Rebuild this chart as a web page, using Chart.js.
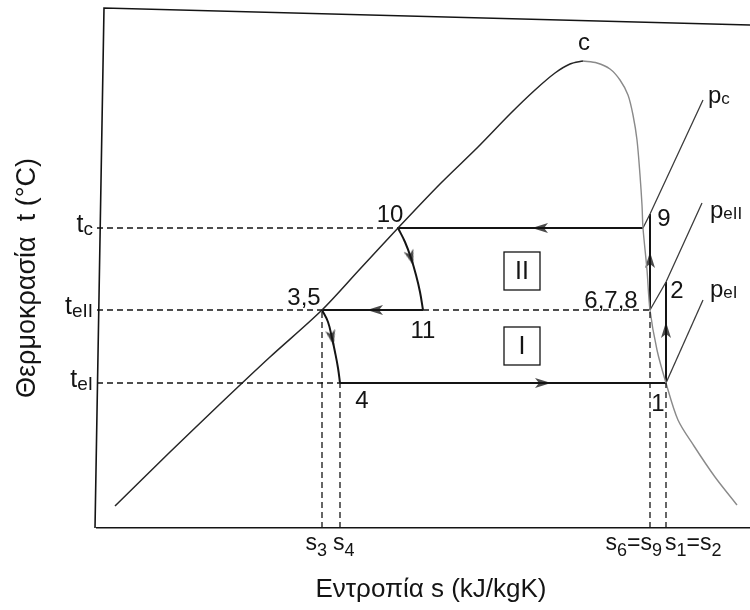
<!DOCTYPE html>
<html>
<head>
<meta charset="utf-8">
<script src="https://cdn.jsdelivr.net/npm/chart.js@4.4.1/dist/chart.umd.min.js"></script>
<style>
  html, body { margin: 0; padding: 0; background: #fff; }
  canvas { display: block; }
</style>
</head>
<body>
<canvas id="ts" width="750" height="610"></canvas>
<script>
// ---- Schematic T-s diagram of a two-stage vapour compression cycle ----
// entropy s and temperature t in arbitrary (schematic) units

// saturated liquid branch of the dome, up to the critical point c
const liquidS = [0.18, 0.73, 1.23, 1.73, 2.25, 2.63, 3.01, 3.43, 3.81, 4.13, 4.38, 4.58, 4.73, 4.86];
const liquidT = [0.22, 0.76, 1.24, 1.71, 2.18, 2.59, 3.00, 3.44, 3.81, 4.14, 4.38, 4.55, 4.64, 4.67];

// saturated vapour branch, from c downwards
const vapourS = [4.86, 5.00, 5.13, 5.23, 5.31, 5.36, 5.40, 5.43, 5.45, 5.46, 5.50, 5.53, 5.60, 5.69, 5.81, 5.97, 6.18, 6.40];
const vapourT = [4.67, 4.65, 4.59, 4.48, 4.33, 4.13, 3.88, 3.53, 3.23, 3.00, 2.58, 2.18, 1.78, 1.45, 1.08, 0.82, 0.51, 0.23];

// cycle state points
const stateNames = ['1', '2', '3,5', '4', '6,7,8', '9', '10', '11'];
const stateS     = [5.69, 5.69, 2.25, 2.43, 5.53, 5.53, 3.01, 3.26];
const stateT     = [1.45, 2.46, 2.18, 1.45, 2.18, 3.14, 3.00, 2.18];

// throttling 10 -> 11 and 3,5 -> 4
const throttleHiS = [3.01, 3.08, 3.14, 3.19, 3.23, 3.26];
const throttleHiT = [3.00, 2.86, 2.70, 2.53, 2.36, 2.18];
const throttleLoS = [2.25, 2.31, 2.35, 2.38, 2.41, 2.43];
const throttleLoT = [2.18, 2.06, 1.90, 1.76, 1.60, 1.45];

// isobars in the superheated region
const isobarNames = ['p_c', 'p_eII', 'p_eI'];
const isobarS = [[5.46, 5.53, 6.06], [5.53, 5.69, 6.05], [5.69, 6.06]];
const isobarT = [[3.00, 3.14, 4.28], [2.18, 2.46, 3.25], [1.45, 2.28]];

// temperature levels (y ticks) and entropy marks (x ticks)
const tempLabels = ['t_c', 't_eII', 't_eI'];
const tempValues = [3.00, 2.18, 1.45];
const entropyLabels = ['s_3', 's_4', 's_6=s_9', 's_1=s_2'];
const entropyValues = [2.25, 2.43, 5.53, 5.69];

// direction arrows along the cycle
const arrowS   = [4.46, 5.69, 5.53, 4.43, 3.14, 2.78, 2.35];
const arrowT   = [1.45, 1.98, 2.68, 3.00, 2.70, 2.18, 1.90];
const arrowDir = [90, 0, 0, 270, 162, 270, 167];

// ---------------------------------------------------------------------
const FONT = "'Liberation Sans', Arial, Helvetica, sans-serif";
const INK = '#141414';

const pts = (xs, ys) => xs.map((x, i) => ({ x: x, y: ys[i] }));
const st = name => stateNames.indexOf(name);

function seg(xs, ys, color, width, dash, tension) {
  return {
    data: pts(xs, ys), showLine: true, pointRadius: 0, pointHoverRadius: 0,
    borderColor: color, borderWidth: width, borderDash: dash || [],
    tension: tension || 0, fill: false, borderCapStyle: 'butt'
  };
}

// arrow head sprite (points up, rotated per point)
function makeArrow() {
  const c = document.createElement('canvas');
  c.width = 10; c.height = 16;
  const g = c.getContext('2d');
  g.fillStyle = '#4a4a4a';
  g.beginPath();
  g.moveTo(5, 0);
  g.lineTo(10, 16);
  g.lineTo(5, 12);
  g.lineTo(0, 16);
  g.closePath();
  g.fill();
  return c;
}

const DASH = [6, 4];
const datasets = [];

// dashed guide lines to the axes
tempValues.forEach((t, i) => {
  const endS = [stateS[st('10')], stateS[st('3,5')], stateS[st('4')]][i];
  datasets.push(seg([0, endS], [t, t], INK, 1.3, DASH));
});
entropyValues.forEach((s, i) => {
  const topT = [stateT[st('3,5')], stateT[st('4')], stateT[st('6,7,8')], stateT[st('1')]][i];
  datasets.push(seg([s, s], [0, topT], INK, 1.3, DASH));
});
// dashed continuation 11 -> 6,7,8
datasets.push(seg([stateS[st('11')], stateS[st('6,7,8')]], [stateT[st('11')], stateT[st('6,7,8')]], INK, 1.3, DASH));

// saturation dome
datasets.push(seg(liquidS, liquidT, '#262626', 1.5, null, 0.3));
datasets.push(seg(vapourS, vapourT, '#8a8a8a', 1.4, null, 0.3));

// isobars
isobarS.forEach((xs, i) => datasets.push(seg(xs, isobarT[i], '#3c3c3c', 1.3)));

// cycle processes
const P = n => [stateS[st(n)], stateT[st(n)]];
const line2 = (a, b) => seg([P(a)[0], P(b)[0]], [P(a)[1], P(b)[1]], INK, 2);
datasets.push(line2('4', '1'));
datasets.push(line2('1', '2'));
datasets.push(line2('6,7,8', '9'));
datasets.push(seg([vapourS[9], stateS[st('10')]], [vapourT[9], stateT[st('10')]], INK, 2));
datasets.push(line2('11', '3,5'));
datasets.push(seg(throttleHiS, throttleHiT, INK, 2, null, 0.4));
datasets.push(seg(throttleLoS, throttleLoT, INK, 2, null, 0.4));

// arrows
datasets.push({
  data: pts(arrowS, arrowT), showLine: false,
  pointStyle: makeArrow(), pointRadius: 6, pointHoverRadius: 6,
  pointRotation: arrowDir
});

// split "s_6=s_9" into base and subscript runs
function parts(str) {
  const out = [];
  let i = 0;
  while (i < str.length) {
    let j;
    if (str[i] === '_') {
      j = i + 1;
      while (j < str.length && /[A-Za-z0-9]/.test(str[j])) j++;
      out.push({ t: str.slice(i + 1, j), sub: true });
    } else {
      j = i;
      while (j < str.length && str[j] !== '_') j++;
      out.push({ t: str.slice(i, j), sub: false });
    }
    i = j;
  }
  return out;
}

function drawRich(ctx, str, x, y, size, subRatio, subDy, align) {
  const subSize = Math.round(size * subRatio);
  const ps = parts(str);
  let w = 0;
  ps.forEach(p => {
    ctx.font = (p.sub ? subSize : size) + 'px ' + FONT;
    p.w = ctx.measureText(p.t).width;
    w += p.w;
  });
  let cx = align === 'right' ? x - w : align === 'center' ? x - w / 2 : x;
  ctx.textBaseline = 'alphabetic';
  ctx.textAlign = 'left';
  ps.forEach(p => {
    ctx.font = (p.sub ? subSize : size) + 'px ' + FONT;
    ctx.fillText(p.t, cx, p.sub ? y + subDy : y);
    cx += p.w;
  });
}

const annotate = {
  id: 'annotate',
  afterDatasetsDraw(chart) {
    const ctx = chart.ctx;
    const xs = chart.scales.x, ys = chart.scales.y;
    const X = v => xs.getPixelForValue(v);
    const Y = v => ys.getPixelForValue(v);
    const a = chart.chartArea;
    ctx.save();
    ctx.fillStyle = INK;
    ctx.strokeStyle = INK;

    // frame: left and top edges
    ctx.lineWidth = 1.6;
    ctx.beginPath();
    ctx.moveTo(a.left - 2, a.bottom);
    ctx.lineTo(a.left + 7, a.top - 2);
    ctx.lineTo(a.right + 1, a.top + 15);
    ctx.stroke();

    // state point labels
    const offs = { '1': [-8, 28], '2': [11, 16], '3,5': [-18, -5], '4': [22, 25],
                   '6,7,8': [-39, -2], '9': [14, 12], '10': [-8, -6], '11': [0, 28] };
    ctx.font = '24px ' + FONT;
    ctx.textAlign = 'center';
    ctx.textBaseline = 'alphabetic';
    stateNames.forEach((n, i) => {
      const o = offs[n];
      ctx.fillText(n, X(stateS[i]) + o[0], Y(stateT[i]) + o[1]);
    });
    // critical point
    const ci = liquidS.length - 1;
    ctx.fillText('c', X(liquidS[ci]) + 1, Y(liquidT[ci]) - 11);

    // isobar labels at the upper ends
    const pOff = [[5, 3], [8, 15], [7, -3]];
    isobarNames.forEach((n, i) => {
      const k = isobarS[i].length - 1;
      drawRich(ctx, n, X(isobarS[i][k]) + pOff[i][0], Y(isobarT[i][k]) + pOff[i][1], 24, 0.72, 1, 'left');
    });

    // boxed region numbers
    [['II', 4.25, 2.57], ['I', 4.25, 1.82]].forEach(b => {
      const bx = X(b[1]), by = Y(b[2]);
      ctx.lineWidth = 1.3;
      ctx.strokeRect(bx - 18, by - 19, 36, 38);
      ctx.font = '25px ' + FONT;
      ctx.textAlign = 'center';
      ctx.textBaseline = 'middle';
      ctx.fillText(b[0], bx, by + 1);
    });

    // temperature tick labels
    tempLabels.forEach((l, i) => drawRich(ctx, l, a.left - 4, Y(tempValues[i]) + 4, 25, 0.76, 3, 'right'));

    // entropy tick labels
    const sAlign = [['right', 5], ['left', -7], ['right', 12], ['left', -1]];
    entropyLabels.forEach((l, i) => drawRich(ctx, l, X(entropyValues[i]) + sAlign[i][1], a.bottom + 22, 23, 0.78, 6, sAlign[i][0]));

    // axis titles
    ctx.font = '26px ' + FONT;
    ctx.textAlign = 'center';
    ctx.textBaseline = 'middle';
    ctx.fillText('Εντροπία s (kJ/kgK)', 431, 590);
    ctx.save();
    ctx.translate(28, 278);
    ctx.rotate(-Math.PI / 2);
    ctx.font = '27px ' + FONT;
    ctx.fillText('Θερμοκρασία  t (°C)', 0, 0);
    ctx.restore();

    ctx.restore();
  }
};

new Chart(document.getElementById('ts'), {
  type: 'scatter',
  data: { datasets: datasets },
  options: {
    responsive: false,
    animation: false,
    devicePixelRatio: 1,
    layout: { autoPadding: false, padding: { left: 97, top: 10, right: 0, bottom: 82 } },
    plugins: { legend: { display: false }, tooltip: { enabled: false } },
    scales: {
      x: {
        type: 'linear', min: 0, max: 6.53,
        ticks: { display: false }, grid: { display: false, drawTicks: false },
        border: { display: true, color: INK, width: 1.6 }
      },
      y: {
        type: 'linear', min: 0, max: 5.18,
        ticks: { display: false }, grid: { display: false, drawTicks: false },
        border: { display: false }
      }
    }
  },
  plugins: [annotate]
});
</script>
</body>
</html>
